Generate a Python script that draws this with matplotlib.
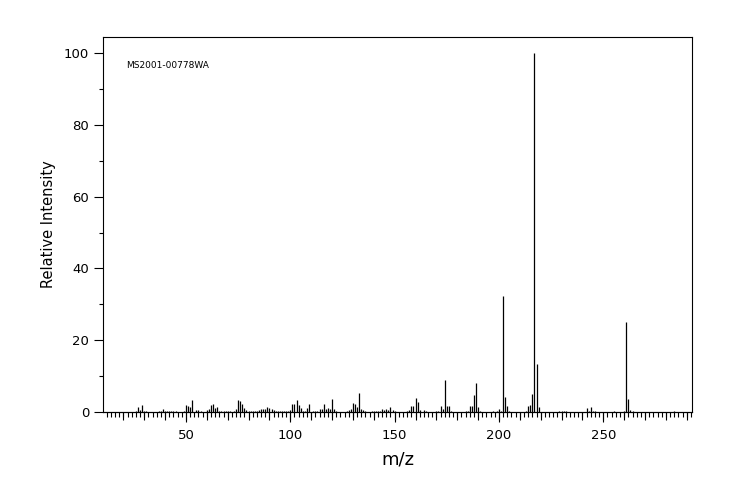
import matplotlib
matplotlib.use("Agg")
import matplotlib.pyplot as plt
from matplotlib.ticker import MultipleLocator

spectrum_id = "MS2001-00778WA"

# m/z values and relative intensities
mz = [26, 27, 28, 29, 30, 31, 37, 38, 39, 40, 41, 42, 43, 44, 45, 49,
      50, 51, 52, 53, 55, 56, 57, 60, 61, 62, 63, 64, 65, 66, 67, 68,
      69, 70, 71, 73, 74, 75, 76, 77, 78, 79, 80, 81, 82, 83, 84, 85,
      86, 87, 88, 89, 90, 91, 92, 93, 94, 95, 96, 97, 98, 99, 100, 101,
      102, 103, 104, 105, 106, 107, 108, 109, 111, 112, 113, 114, 115, 116, 117, 118,
      119, 120, 121, 122, 127, 128, 129, 130, 131, 132, 133, 134, 135, 136, 139, 140,
      141, 142, 143, 144, 145, 146, 147, 148, 149, 150, 156, 157, 158, 159, 160, 161,
      162, 164, 165, 170, 171, 172, 173, 174, 175, 176, 177, 184, 185, 186, 187, 188,
      189, 190, 191, 197, 199, 200, 201, 202, 203, 204, 205, 213, 214, 215, 216, 217,
      218, 219, 229, 230, 231, 232, 242, 243, 244, 245, 246, 255, 260, 261, 262, 263,
      264, 284]
intensity = [0.3, 1.4, 0.6, 1.9, 0.3, 0.3, 0.3, 0.3, 0.9, 0.3, 0.4, 0.4, 0.4, 0.3, 0.3, 0.3,
             2.0, 1.8, 1.4, 3.3, 0.5, 0.5, 0.4, 0.5, 0.7, 2.0, 2.2, 1.1, 1.3, 0.4, 0.4, 0.4,
             0.4, 0.4, 0.4, 0.4, 0.9, 3.3, 3.1, 2.2, 1.1, 0.6, 0.3, 0.3, 0.3, 0.3, 0.3, 0.5,
             0.7, 0.7, 0.7, 1.3, 1.1, 0.7, 0.5, 0.3, 0.3, 0.3, 0.3, 0.3, 0.3, 0.3, 0.5, 2.2,
             2.2, 3.3, 1.9, 1.1, 0.4, 0.4, 1.1, 2.2, 0.4, 0.4, 0.4, 0.7, 0.7, 2.2, 0.9, 1.1,
             0.9, 3.6, 0.9, 0.3, 0.3, 0.6, 0.9, 2.5, 2.2, 1.4, 5.3, 0.8, 0.6, 0.3, 0.3, 0.3,
             0.3, 0.3, 0.3, 0.8, 0.5, 0.7, 0.5, 1.4, 0.6, 0.3, 0.3, 0.6, 1.7, 1.7, 3.9, 2.8,
             0.6, 0.6, 0.3, 0.3, 0.3, 1.7, 0.8, 8.9, 1.7, 1.7, 0.3, 0.3, 0.3, 1.7, 1.7, 4.7,
             8.1, 1.4, 0.3, 0.3, 0.3, 0.8, 0.3, 32.3, 4.2, 1.7, 0.3, 0.3, 1.7, 1.9, 5.0, 100.0,
             13.5, 1.4, 0.3, 0.3, 0.3, 0.3, 1.1, 0.3, 1.4, 0.3, 0.3, 0.3, 0.3, 25.2, 3.6, 0.6,
             0.3, 0.3]

fig = plt.figure(figsize=(7.44, 5.0), dpi=100)
ax = fig.add_axes([0.1389, 0.176, 0.7909, 0.75])

ax.vlines(mz, 0, intensity, color="black", linewidth=0.9)

ax.set_xlim(10.4, 292.4)
ax.set_ylim(0, 104.5)

# x: labelled ticks every 50, ticks every 10, small ticks every 2
ax.xaxis.set_major_locator(MultipleLocator(50))
ax.xaxis.set_minor_locator(MultipleLocator(2))
ax.tick_params(axis="x", which="major", length=7.2, width=0.8, pad=5, labelsize=9.5)
ax.tick_params(axis="x", which="minor", length=3.6, width=0.8)
sec = ax.secondary_xaxis("bottom")
sec.xaxis.set_major_locator(MultipleLocator(10))
sec.tick_params(axis="x", length=5.8, width=0.8, labelbottom=False)
sec.spines["bottom"].set_linewidth(0.8)

ax.yaxis.set_major_locator(MultipleLocator(20))
ax.yaxis.set_minor_locator(MultipleLocator(10))
ax.tick_params(axis="y", which="major", length=6.2, width=0.8, pad=4, labelsize=9.5)
ax.tick_params(axis="y", which="minor", length=3.0, width=0.8)

for s in ax.spines.values():
    s.set_linewidth(0.8)

ax.set_xlabel("m/z", fontsize=13, labelpad=6)
ax.set_ylabel("Relative Intensity", fontsize=10.5, labelpad=6)

ax.text(0.0386, 0.923, spectrum_id, transform=ax.transAxes, fontsize=6.5,
        ha="left", va="center")

fig.savefig("out.png", dpi=100)
